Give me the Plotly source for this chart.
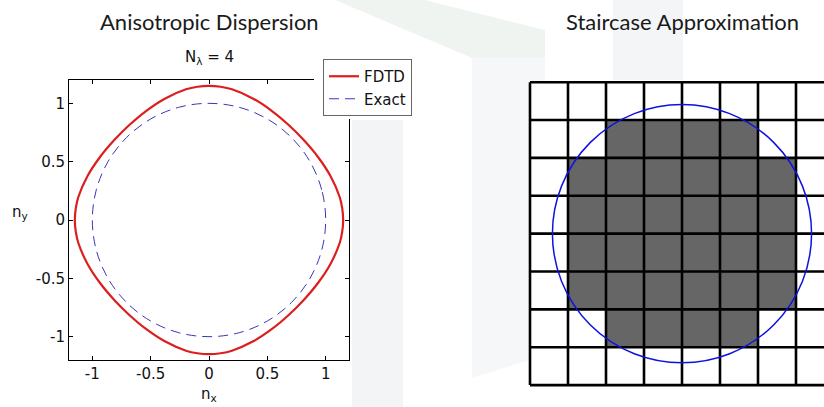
import plotly.graph_objects as go

W, H = 824, 407

# ---------------- data ----------------
fdtd_x = [1.150, 1.142, 1.120, 1.040, 0.934, 0.814, 0.683, 0.540, 0.379, 0.197, 0.100,
          0.000, -0.100, -0.197, -0.379, -0.540, -0.683, -0.814, -0.934, -1.040, -1.120, -1.142,
          -1.150, -1.142, -1.120, -1.040, -0.934, -0.814, -0.683, -0.540, -0.379, -0.197, -0.100,
          0.000, 0.100, 0.197, 0.379, 0.540, 0.683, 0.814, 0.934, 1.040, 1.120, 1.142, 1.150]
fdtd_y = [0.000, 0.100, 0.197, 0.379, 0.540, 0.683, 0.814, 0.934, 1.040, 1.120, 1.142,
          1.150, 1.142, 1.120, 1.040, 0.934, 0.814, 0.683, 0.540, 0.379, 0.197, 0.100,
          0.000, -0.100, -0.197, -0.379, -0.540, -0.683, -0.814, -0.934, -1.040, -1.120, -1.142,
          -1.150, -1.142, -1.120, -1.040, -0.934, -0.814, -0.683, -0.540, -0.379, -0.197, -0.100, 0.000]

exact_x = [1.000, 0.966, 0.866, 0.707, 0.500, 0.259, 0.000, -0.259, -0.500, -0.707, -0.866, -0.966,
           -1.000, -0.966, -0.866, -0.707, -0.500, -0.259, 0.000, 0.259, 0.500, 0.707, 0.866, 0.966, 1.000]
exact_y = [0.000, 0.259, 0.500, 0.707, 0.866, 0.966, 1.000, 0.966, 0.866, 0.707, 0.500, 0.259,
           0.000, -0.259, -0.500, -0.707, -0.866, -0.966, -1.000, -0.966, -0.866, -0.707, -0.500, -0.259, 0.000]

tick_vals = [-1, -0.5, 0, 0.5, 1]
tick_text = ["-1", "-0.5", "0", "0.5", "1"]

# staircase grid: rows listed top to bottom, 1 = filled cell
cell_centers = [0.5, 1.5, 2.5, 3.5, 4.5, 5.5, 6.5, 7.5]
stair_mask = [
    [0, 0, 0, 0, 0, 0, 0, 0],
    [0, 0, 1, 1, 1, 1, 0, 0],
    [0, 1, 1, 1, 1, 1, 1, 0],
    [0, 1, 1, 1, 1, 1, 1, 0],
    [0, 1, 1, 1, 1, 1, 1, 0],
    [0, 1, 1, 1, 1, 1, 1, 0],
    [0, 0, 1, 1, 1, 1, 0, 0],
    [0, 0, 0, 0, 0, 0, 0, 0],
]
grid_edges = [0, 1, 2, 3, 4, 5, 6, 7, 8]
circle_center = (4.0, 4.0)
circle_radius = 3.41

# ---------------- helpers ----------------
def px(x):
    return x / W

def py(y):
    return 1 - y / H

FONT = "DejaVu Sans"
TFONT = "Lato"

fig = go.Figure()

fig.add_trace(go.Scatter(x=fdtd_x, y=fdtd_y, mode="lines", name="FDTD",
                         line=dict(color="#dc1e1e", width=2.2, shape="spline", smoothing=0.8),
                         xaxis="x", yaxis="y"))
fig.add_trace(go.Scatter(x=exact_x, y=exact_y, mode="lines", name="Exact",
                         line=dict(color="#3838b8", width=1, dash="10px,6px", shape="spline", smoothing=1.0),
                         xaxis="x", yaxis="y"))

fig.add_trace(go.Heatmap(x=cell_centers, y=cell_centers, z=stair_mask,
                         colorscale=[[0, "#ffffff"], [1, "#666666"]], zmin=0, zmax=1,
                         showscale=False, hoverinfo="skip", xaxis="x2", yaxis="y2"))

gx, gy = [], []
lo, hi = grid_edges[0], grid_edges[-1]
for g in grid_edges:
    gx += [g, g, None]
    gy += [lo, hi, None]
    gx += [lo, hi, None]
    gy += [g, g, None]
fig.add_trace(go.Scatter(x=gx, y=gy, mode="lines", line=dict(color="black", width=2.6),
                         showlegend=False, hoverinfo="skip", xaxis="x2", yaxis="y2"))

cx, cy = circle_center
shapes = [
    # faint slide background decorations
    dict(type="path", xref="paper", yref="paper", layer="below",
         path=f"M {px(335)} {py(0)} L {px(425)} {py(0)} L {px(545)} {py(30)} L {px(545)} {py(58)} L {px(472)} {py(58)} Z",
         fillcolor="#f0f4f1", line=dict(width=0)),
    dict(type="path", xref="paper", yref="paper", layer="below",
         path=f"M {px(472)} {py(58)} L {px(545)} {py(58)} L {px(545)} {py(355)} L {px(472)} {py(378)} Z",
         fillcolor="#f6f7f8", line=dict(width=0)),
    dict(type="rect", xref="paper", yref="paper", layer="below",
         x0=px(352), x1=px(403), y0=py(407), y1=py(120),
         fillcolor="#f3f4f6", line=dict(width=0)),
    dict(type="rect", xref="paper", yref="paper", layer="below",
         x0=px(613), x1=px(683), y0=py(80), y1=py(0),
         fillcolor="#f4f5f7", line=dict(width=0)),
    # white patch hiding the top-right corner of the left axes box
    dict(type="rect", xref="paper", yref="paper", layer="above",
         x0=px(314), x1=px(405), y0=py(119), y1=py(45),
         fillcolor="white", line=dict(width=0)),
    # circle on the staircase grid
    dict(type="circle", xref="x2", yref="y2", layer="above",
         x0=cx - circle_radius, x1=cx + circle_radius,
         y0=cy - circle_radius, y1=cy + circle_radius,
         line=dict(color="#1010e0", width=1.5)),
]

annotations = [
    dict(text="Anisotropic Dispersion", x=px(209), y=py(21), xref="paper", yref="paper",
         showarrow=False, font=dict(family=TFONT, size=22, color="#1a1a1a"),
         xanchor="center", yanchor="middle"),
    dict(text="Staircase Approximation", x=px(682), y=py(21), xref="paper", yref="paper",
         showarrow=False, font=dict(family=TFONT, size=22, color="#1a1a1a"),
         xanchor="center", yanchor="middle"),
    dict(text="N<sub>λ</sub> = 4", x=px(209), y=py(57), xref="paper", yref="paper",
         showarrow=False, font=dict(family=FONT, size=15, color="#111111"),
         xanchor="center", yanchor="middle"),
    dict(text="n<sub>x</sub>", x=px(209), y=py(394), xref="paper", yref="paper",
         showarrow=False, font=dict(family=FONT, size=15, color="#111111"),
         xanchor="center", yanchor="middle"),
    dict(text="n<sub>y</sub>", x=px(20), y=py(212), xref="paper", yref="paper",
         showarrow=False, font=dict(family=FONT, size=15, color="#111111"),
         xanchor="center", yanchor="middle"),
]

axis_common = dict(showgrid=False, zeroline=False, showline=True, linecolor="black", linewidth=1,
                   mirror="ticks", ticks="inside", ticklen=4, tickcolor="black",
                   tickvals=tick_vals, ticktext=tick_text, range=[-1.2, 1.2],
                   tickfont=dict(family=FONT, size=15, color="#111111"), fixedrange=True)

fig.update_layout(
    width=W, height=H,
    margin=dict(l=0, r=0, t=0, b=0),
    paper_bgcolor="white", plot_bgcolor="white",
    showlegend=True,
    legend=dict(x=px(323), y=py(59), xanchor="left", yanchor="top",
                bgcolor="white", bordercolor="#666666", borderwidth=1,
                font=dict(family=FONT, size=15, color="#111111"),
                tracegroupgap=0, itemwidth=30),
    xaxis=dict(domain=[px(69), px(349)], anchor="y", **axis_common),
    yaxis=dict(domain=[py(360), py(80)], anchor="x", **axis_common),
    xaxis2=dict(domain=[px(528), 1.0], anchor="y2", range=[-0.0526, 7.737], visible=False, fixedrange=True),
    yaxis2=dict(domain=[py(387), py(80.3)], anchor="x2", range=[8.05, -0.05], visible=False, fixedrange=True),
    shapes=shapes,
    annotations=annotations,
)

fig.write_html("out.html", config={"displayModeBar": False},
               post_script="document.body.style.margin='0';document.body.style.overflow='hidden';")
